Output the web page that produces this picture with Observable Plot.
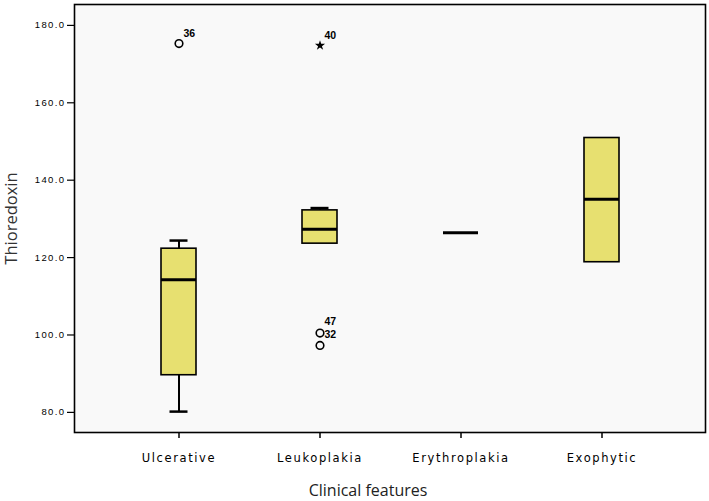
<!DOCTYPE html>
<html><head><meta charset="utf-8">
<script src="https://cdn.jsdelivr.net/npm/d3@7"></script>
<script src="https://cdn.jsdelivr.net/npm/@observablehq/plot@0.6"></script>
<style>
body{margin:0;background:#fff;}
g[aria-label="y-axis tick label"] text{letter-spacing:1.4px;}
g[aria-label="x-axis tick label"] text{letter-spacing:1.6px;}
</style></head><body><div id="chart"></div>
<script>
// Summary statistics
const categories = ["Ulcerative", "Leukoplakia", "Erythroplakia", "Exophytic"];
const lowerWhisker = [80.2, 123.6, 126.4, 118.8];
const q1 = [89.6, 123.6, 126.4, 118.8];
const median = [114.3, 127.3, 126.4, 135.1];
const q3 = [122.3, 132.2, 126.4, 150.9];
const upperWhisker = [124.4, 132.8, 126.4, 150.9];

// Outliers / extremes
const outlierCat = ["Ulcerative", "Leukoplakia", "Leukoplakia", "Leukoplakia"];
const outlierVal = [175.3, 174.8, 100.5, 97.3];
const outlierKind = ["circle", "star", "circle", "circle"];

// Case labels
const labelCat = ["Ulcerative", "Leukoplakia", "Leukoplakia", "Leukoplakia"];
const labelVal = [177.9, 177.4, 103.5, 100.2];
const labelText = ["36", "40", "47", "32"];

const yTicks = [80, 100, 120, 140, 160, 180];

const idx = categories.map((_, i) => i);
const boxIdx = idx.filter(i => q3[i] > q1[i]);
const outIdx = outlierCat.map((_, i) => i);
const labIdx = labelCat.map((_, i) => i);

const chart = Plot.plot({
  width: 709, height: 501,
  marginLeft: 74, marginRight: 4, marginTop: 4, marginBottom: 69,
  style: {background: "#fff", fontFamily: "'Liberation Sans', Arial, sans-serif", color: "#000"},
  x: {type: "band", domain: categories, paddingInner: 0.754, paddingOuter: 0.599, label: null},
  y: {domain: [74.8, 185.4], label: null},
  marks: [
    Plot.frame({fill: "#f9f9f9", stroke: "none"}),
    Plot.axisY({ticks: yTicks, tickFormat: d => d.toFixed(1), tickSize: 7, tickPadding: 2,
      fontSize: 9.5, label: null, stroke: "#000", strokeWidth: 1.2}),
    Plot.axisX({tickSize: 6, tickPadding: 15, fontSize: 11.5, fontFamily: "'DejaVu Sans', Verdana, sans-serif",
      label: null, stroke: "#000", strokeWidth: 1.5, fill: "#000"}),
    // whiskers
    Plot.ruleX(idx, {x: i => categories[i], y1: i => q3[i], y2: i => upperWhisker[i], stroke: "#000", strokeWidth: 2}),
    Plot.ruleX(idx, {x: i => categories[i], y1: i => q1[i], y2: i => lowerWhisker[i], stroke: "#000", strokeWidth: 2}),
    Plot.tickY(idx.filter(i => upperWhisker[i] > q3[i]), {x: i => categories[i], y: i => upperWhisker[i], inset: 8.5, stroke: "#000", strokeWidth: 2.5}),
    Plot.tickY(idx.filter(i => lowerWhisker[i] < q1[i]), {x: i => categories[i], y: i => lowerWhisker[i], inset: 8.5, stroke: "#000", strokeWidth: 2.5}),
    // boxes
    Plot.barY(boxIdx, {x: i => categories[i], y1: i => q1[i], y2: i => q3[i], fill: "#e7e070", stroke: "#000", strokeWidth: 1.6}),
    // medians
    Plot.tickY(idx, {x: i => categories[i], y: i => median[i], stroke: "#000", strokeWidth: 3}),
    // outliers
    Plot.dot(outIdx.filter(i => outlierKind[i] === "circle"), {x: i => outlierCat[i], y: i => outlierVal[i], r: 3.8, stroke: "#000", strokeWidth: 1.6, fill: "none"}),
    Plot.dot(outIdx.filter(i => outlierKind[i] === "star"), {x: i => outlierCat[i], y: i => outlierVal[i], symbol: "star", r: 3.2, fill: "#000", stroke: "none"}),
    Plot.text(labIdx, {x: i => labelCat[i], y: i => labelVal[i], text: i => labelText[i], textAnchor: "start", dx: 4.5,
      fontSize: 10.5, fontWeight: "bold", fill: "#000"}),
    Plot.frame({stroke: "#000", strokeWidth: 1.6}),
    // axis titles
    Plot.text(["Thioredoxin"], {frameAnchor: "left", dx: -63, rotate: -90, textAnchor: "middle", lineAnchor: "middle",
      fontSize: 16.5, fontFamily: "'Open Sans', 'DejaVu Sans', sans-serif", fill: "#333"}),
    Plot.text(["Clinical features"], {frameAnchor: "bottom", dy: 58, dx: -22, textAnchor: "middle", lineAnchor: "middle",
      fontSize: 16, fontFamily: "'Open Sans', sans-serif", fill: "#222"})
  ]
});
document.getElementById("chart").appendChild(chart);
</script>
</body></html>
